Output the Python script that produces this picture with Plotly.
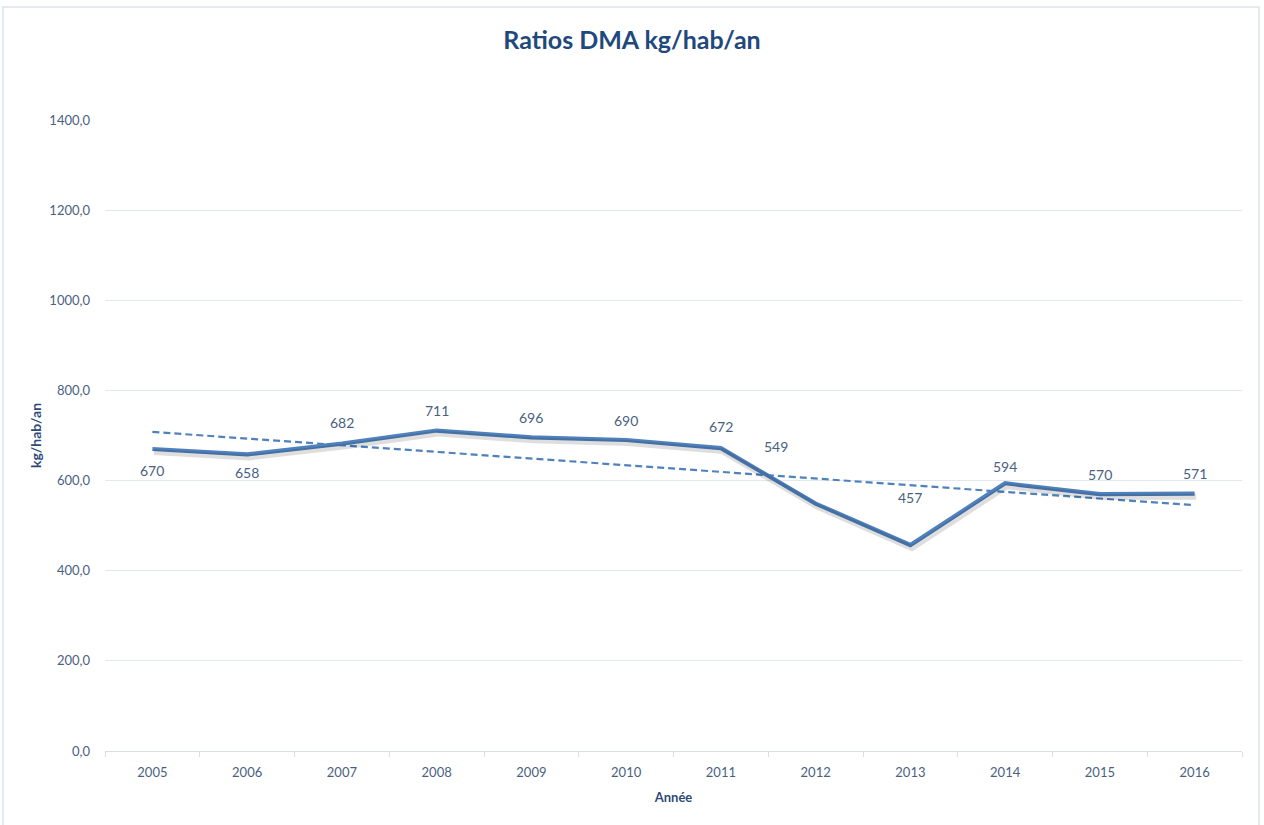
import numpy as np
import plotly.graph_objects as go

years = ["2005", "2006", "2007", "2008", "2009", "2010", "2011", "2012", "2013", "2014", "2015", "2016"]
ratios = [670, 658, 682, 711, 696, 690, 672, 549, 457, 594, 570, 571]
y_ticks = [0, 200, 400, 600, 800, 1000, 1200, 1400]
y_tick_labels = ["0,0", "200,0", "400,0", "600,0", "800,0", "1000,0", "1200,0", "1400,0"]

# label offsets (pixels) - style only
label_dx = [0, 0, 0, 0, 0, 0, 0, -40, 0, 0, 0, 0]
label_dy = [-21, -18, 21, 20, 20, 20, 22, 57, 48, 17, 20, 20]

W, H = 1264, 825
ML, MR, MT, MB = 105, 22, 120, 74
pw = W - ML - MR
ph = H - MT - MB

LINE = "#4F81BD"
TXT = "#4A5F82"
TTL = "#2E4A78"
FONT = "Lato"

# linear trendline (least squares)
xi = np.arange(len(years))
slope, intercept = np.polyfit(xi, ratios, 1)
trend = intercept + slope * xi

fig = go.Figure()

# shadow of main line (drawn on slightly shifted overlay axes)
fig.add_trace(go.Scatter(x=years, y=ratios, mode="lines", xaxis="x2", yaxis="y2",
                         line=dict(color="rgba(0,0,0,0.13)", width=6),
                         hoverinfo="skip", showlegend=False))
fig.add_trace(go.Scatter(x=years, y=ratios, mode="lines",
                         line=dict(color=LINE, width=4.2), showlegend=False))
fig.add_trace(go.Scatter(x=years, y=trend, mode="lines",
                         line=dict(color=LINE, width=2.2, dash="7px,4px"), showlegend=False))

for i, v in enumerate(ratios):
    fig.add_annotation(x=int(xi[i]), y=v, xref="x", yref="y", text=str(v), showarrow=False,
                       xshift=label_dx[i], yshift=label_dy[i],
                       font=dict(family=FONT, size=14, color=TXT))

ppu_x = pw / 12.0
ppu_y = ph / 1400.0
dx = 1.5 / ppu_x
dy = 3.0 / ppu_y

fig.update_layout(
    width=W, height=H,
    margin=dict(l=ML, r=MR, t=MT, b=MB),
    paper_bgcolor="white", plot_bgcolor="white",
    font=dict(family=FONT, color=TXT),
    title=dict(text="<b>Ratios DMA kg/hab/an</b>", x=0.5, xref="container",
               y=1 - 40 / H, yref="container", yanchor="middle", xanchor="center",
               font=dict(family=FONT, size=25, color="#1F497D")),
    xaxis=dict(type="category", range=[-0.5, 11.5], showgrid=False,
               showline=True, linecolor="#D9DEE6", linewidth=1,
               ticks="outside", tickson="boundaries", ticklen=5, tickcolor="#D9DEE6",
               ticklabelstandoff=9,
               tickfont=dict(family=FONT, size=13, color=TXT),
               title=dict(text="<b>Année</b>", font=dict(family=FONT, size=13, color=TTL), standoff=14),
               zeroline=False),
    yaxis=dict(range=[0, 1400], tickvals=y_ticks, ticktext=y_tick_labels,
               showgrid=True, gridcolor="#E3E8F0", gridwidth=1, zeroline=False,
               showline=False, ticks="", ticklabelstandoff=14,
               tickfont=dict(family=FONT, size=13, color=TXT),
               title=dict(text="<b>kg/hab/an</b>", font=dict(family=FONT, size=14, color=TTL), standoff=4)),
    xaxis2=dict(type="category", overlaying="x", range=[-0.5 - dx, 11.5 - dx], visible=False),
    yaxis2=dict(overlaying="y", range=[dy, 1400 + dy], visible=False),
)

# outer chart frame
fig.add_shape(type="rect", xref="paper", yref="paper",
              x0=(3 - ML) / pw, x1=(W - 5 - ML) / pw,
              y0=(MB - (H + 20)) / ph, y1=(H - 7 - MB) / ph,
              line=dict(color="#DCE3EC", width=1.5), fillcolor="rgba(0,0,0,0)", layer="below")

fig.write_html("out.html", config={"displayModeBar": False},
               post_script="document.body.style.margin='0';")
